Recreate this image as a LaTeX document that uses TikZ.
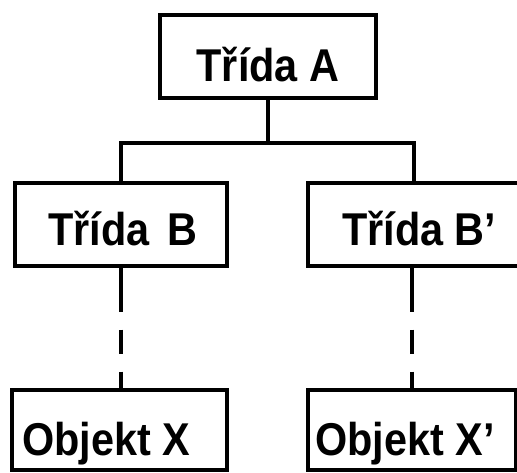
\documentclass[tikz,border=0pt]{standalone}
\usepackage{fontspec}
\newfontfamily\lab{Liberation Sans}[FakeStretch=0.9]
\begin{document}
\begin{tikzpicture}[x=1pt,y=-1pt,
  box/.style={draw, line width=3.2pt, inner sep=0pt},
  txt/.style={inner sep=0pt, font=\lab\bfseries\fontsize{46}{50}\selectfont},
  conn/.style={line width=3.2pt},
  dconn/.style={line width=3.2pt, dash pattern=on 44pt off 18pt on 24pt off 18pt}]
\useasboundingbox (0,0) rectangle (517,472);
% boxes
\node[box, minimum width=216pt, minimum height=83pt] (A) at (268,56.5) {};
\node[box, minimum width=212pt, minimum height=83pt] (B) at (121,224.5) {};
\node[box, minimum width=212pt, minimum height=83pt] (Bp) at (414,224.5) {};
\node[box, minimum width=215pt, minimum height=80pt] (X) at (119.5,430) {};
\node[box, minimum width=208pt, minimum height=80pt] (Xp) at (412,430) {};
% texts
\node[txt, anchor=base] (tA) at (268,81) {Třída A};
\node[txt, anchor=base west] (tB) at (48,245) {Třída\hspace{18pt}B};
\node[txt, anchor=base west] (tBp) at (342,245) {Třída B’};
\node[txt, anchor=base west] (tX) at (22,455) {Objekt X};
\node[txt, anchor=base west] (tXp) at (315,455) {Objekt X’};
% connectors
\coordinate (J) at (268,143);
\draw[conn] (A.south) -- (J);
\draw[conn] (B.north) |- (J) -| (Bp.north);
\draw[dconn] (B.south) -- (B.south |- X.north);
\draw[dconn] (Bp.south -| Xp.north) -- (Xp.north);
\end{tikzpicture}
\end{document}
